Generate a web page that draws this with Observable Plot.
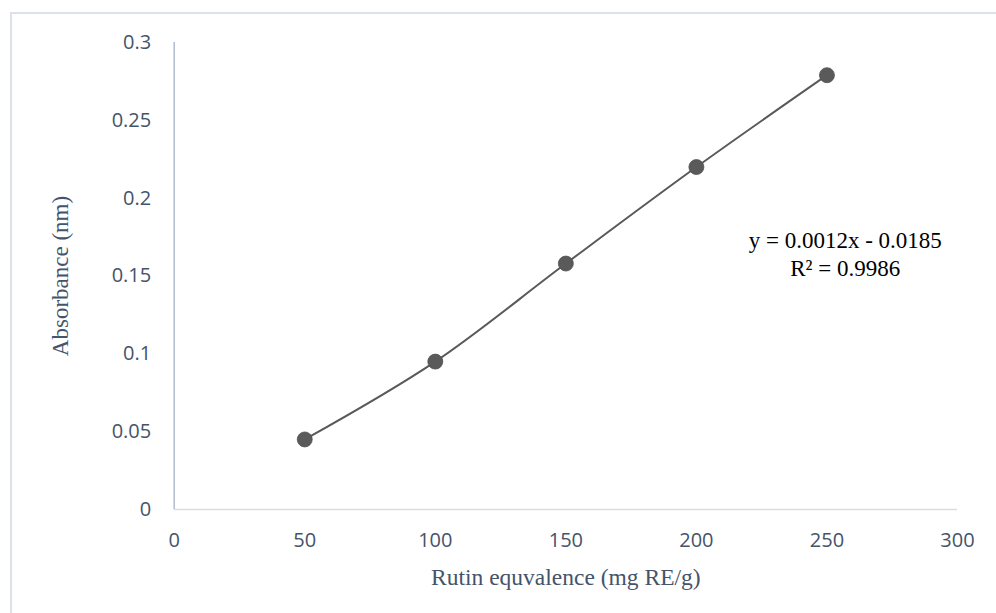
<!DOCTYPE html>
<html><head><meta charset="utf-8">
<script src="https://cdn.jsdelivr.net/npm/d3@7"></script>
<script src="https://cdn.jsdelivr.net/npm/@observablehq/plot@0.6"></script>
<style>
html,body{margin:0;padding:0;background:#fff;overflow:hidden;}
#wrap{position:relative;width:996px;height:613px;}
#frame{position:absolute;left:10px;top:12px;width:1000px;height:700px;border:2px solid #dde2ea;box-sizing:border-box;pointer-events:none;}
</style></head><body><div id="wrap"><div id="chart"></div><div id="frame"></div></div>
<script>
const concentration = [50, 100, 150, 200, 250];
const absorbance = [0.045, 0.095, 0.158, 0.220, 0.279];
const xTicks = [0, 50, 100, 150, 200, 250, 300];
const yTicks = [0, 0.05, 0.1, 0.15, 0.2, 0.25, 0.3];
const xLabel = "Rutin equvalence (mg RE/g)";
const yLabel = "Absorbance (nm)";
const equationLines = ["y = 0.0012x - 0.0185", "R² = 0.9986"];
const equationPos = {x: 257, y: 0.165};

const data = concentration.map((x, i) => ({x, y: absorbance[i]}));
const serif = "'Liberation Serif', 'Times New Roman', serif";
const sans = "'Open Sans', Lato, sans-serif";

const chart = Plot.plot({
  width: 996,
  height: 613,
  marginLeft: 173.7,
  marginRight: 39,
  marginTop: 42,
  marginBottom: 104,
  style: {background: "#fff", fontFamily: sans},
  x: {domain: [0, 300]},
  y: {domain: [0, 0.3]},
  marks: [
    Plot.axisX({ticks: xTicks, tickSize: 0, tickPadding: 23, label: null, fontSize: 20, fill: "#44546a", tickFormat: d => String(d)}),
    Plot.axisY({ticks: yTicks, tickSize: 0, tickPadding: 23, label: null, fontSize: 20, fill: "#44546a", tickFormat: d => String(d)}),
    Plot.ruleY([0], {x1: 0, x2: 300, stroke: "#d9dee6", strokeWidth: 1.5}),
    Plot.ruleX([0], {y1: 0, y2: 0.3, stroke: "#b0bccd", strokeWidth: 1.5}),
    Plot.line(data, {x: "x", y: "y", curve: "catmull-rom", stroke: "#595959", strokeWidth: 2}),
    Plot.dot(data, {x: "x", y: "y", r: 7.5, fill: "#5a5a5a", stroke: "#4d4d4d", strokeWidth: 0.75}),
    Plot.text([equationLines.join("\n")], {x: () => equationPos.x, y: () => equationPos.y, fontFamily: serif, fontSize: 23, fill: "#000", lineHeight: 1.22, textAnchor: "middle", lineAnchor: "middle"}),
    Plot.text([xLabel], {frameAnchor: "bottom", dy: 68, fontFamily: serif, fontSize: 23.5, fill: "#44546a", textAnchor: "middle", lineAnchor: "middle"}),
    Plot.text([yLabel], {frameAnchor: "left", dx: -114, rotate: -90, fontFamily: serif, fontSize: 23, fill: "#44546a", textAnchor: "middle", lineAnchor: "middle"})
  ]
});
document.getElementById("chart").append(chart);
</script>
</body></html>
